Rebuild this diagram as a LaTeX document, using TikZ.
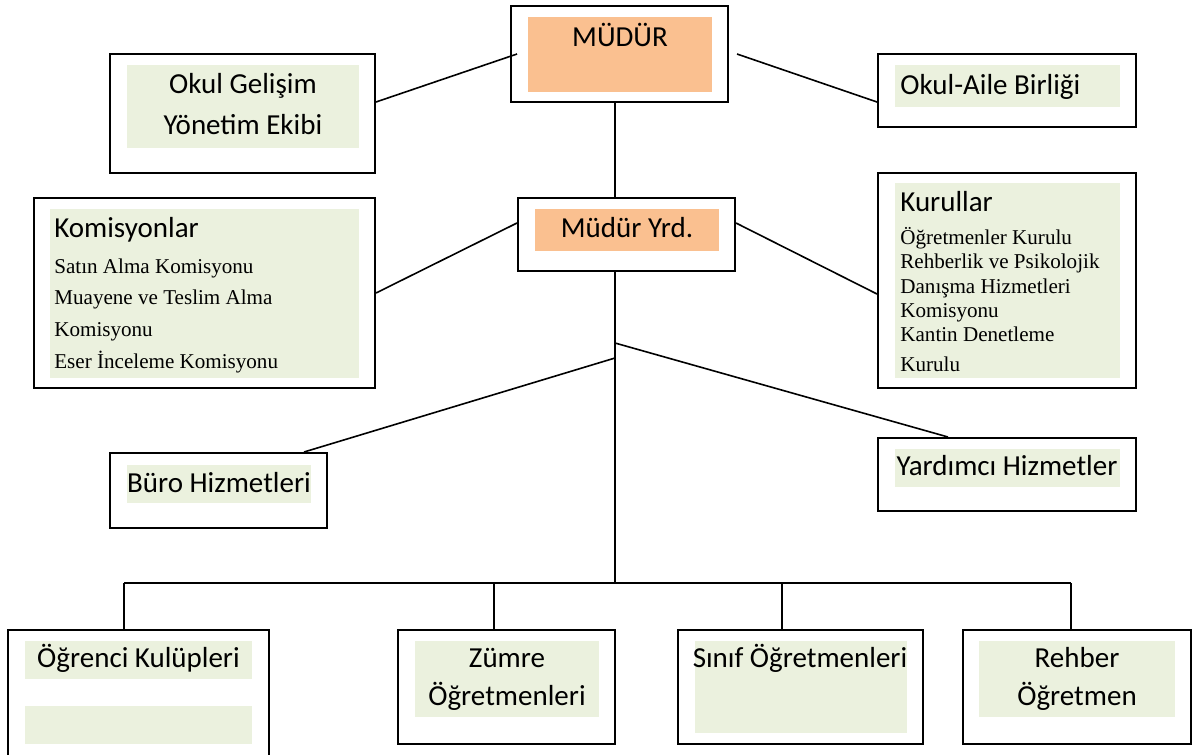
\documentclass[tikz,border=0pt]{standalone}
\usepackage{fontspec}
\usepackage{xcolor}
\usepackage{tikz}
\newfontfamily\calibri{Carlito}
\newfontfamily\tnr{Liberation Serif}
\definecolor{peach}{RGB}{250,192,144}
\definecolor{palegreen}{RGB}{235,241,222}

\begin{document}
\begin{tikzpicture}[x=0.2mm, y=-0.2mm,
    outerbox/.style={draw, line width=0.4mm, fill=white, inner sep=0pt},
    greenfill/.style={fill=palegreen, inner sep=0pt},
    orangefill/.style={fill=peach, inner sep=0pt},
    sanstxt/.style={font=\calibri\fontsize{16.5}{22.5}\selectfont, inner sep=0pt, anchor=base},
    seriftxt/.style={font=\tnr\fontsize{12}{18}\selectfont, inner sep=0pt, anchor=base west, align=left},
    link/.style={line width=0.32mm}]
    \useasboundingbox[fill=white] (0,0) rectangle (1200,754);

    % Mudur
    \node[outerbox, minimum width=43.4mm, minimum height=19.2mm] (mudur) at (619.5,54) {};
    \node[orangefill, minimum width=36.8mm, minimum height=15mm] (mudurfill) at (620,54.5) {};
    \node[sanstxt] (mudurtxt) at (620,46) {MÜDÜR};

    % Okul Gelisim (multi-line: base = last line)
    \node[outerbox, minimum width=53mm, minimum height=23.8mm] (okul) at (242.5,113.5) {};
    \node[greenfill, minimum width=46.4mm, minimum height=16.6mm] (okulfill) at (243,106.5) {};
    \node[sanstxt, align=center, font=\calibri\fontsize{16.5}{22.8}\selectfont] (okultxt) at (243,134) {Okul Gelişim\\Yönetim Ekibi};

    % Okul-Aile
    \node[outerbox, minimum width=51.6mm, minimum height=14.6mm] (aile) at (1007,90.5) {};
    \node[greenfill, minimum width=45mm, minimum height=8.4mm] (ailefill) at (1007.5,86) {};
    \node[sanstxt, anchor=base west] (ailetxt) at (900,94) {Okul-Aile Birliği};

    % Mudur Yrd.
    \node[outerbox, minimum width=43.4mm, minimum height=14.6mm] (yrd) at (626.5,234.5) {};
    \node[orangefill, minimum width=36.8mm, minimum height=8.4mm] (yrdfill) at (627,230) {};
    \node[sanstxt] (yrdtxt) at (627,237) {Müdür Yrd.};

    % Komisyonlar
    \node[outerbox, minimum width=68.2mm, minimum height=38mm] (komisyon) at (204.5,293) {};
    \node[greenfill, minimum width=61.8mm, minimum height=33.8mm] (komisyonfill) at (204.5,293.5) {};
    \node[sanstxt, anchor=base west] (komtitle) at (54,237) {Komisyonlar};
    \node[seriftxt] (komlist) at (54,368) {Satın Alma Komisyonu\\Muayene ve Teslim Alma\\Komisyonu\\Eser İnceleme Komisyonu};

    % Kurullar
    \node[outerbox, minimum width=51.6mm, minimum height=43mm] (kurul) at (1007,280.5) {};
    \node[greenfill, minimum width=45mm, minimum height=39mm] (kurulfill) at (1007.5,280.5) {};
    \node[sanstxt, anchor=base west] (kurtitle) at (900,211) {Kurullar};
    \node[seriftxt, font=\tnr\fontsize{12}{13.9}\selectfont] (kurlist) at (900,371) {Öğretmenler Kurulu\\Rehberlik ve Psikolojik\\Danışma Hizmetleri\\Komisyonu\\Kantin Denetleme\\[0.92mm]Kurulu};

    % Buro / Yardimci
    \node[outerbox, minimum width=43.4mm, minimum height=15mm] (buro) at (218.5,490.5) {};
    \node[greenfill, minimum width=36.8mm, minimum height=7.6mm] (burofill) at (219,484) {};
    \node[sanstxt] (burotxt) at (219,492) {Büro Hizmetleri};
    \node[outerbox, minimum width=51.6mm, minimum height=14.6mm] (yardimci) at (1007,474.5) {};
    \node[greenfill, minimum width=45mm, minimum height=7.6mm] (yardimcifill) at (1007.5,468) {};
    \node[sanstxt] (yardtxt) at (1007,475) {Yardımcı Hizmetler};

    % bottom row
    \node[outerbox, minimum width=52.2mm, minimum height=30mm] (kulup) at (138.5,705) {};
    \node[greenfill, minimum width=45.4mm, minimum height=7.6mm] (kulupfill) at (138.5,660) {};
    \node[greenfill, minimum width=45.4mm, minimum height=7.6mm] (kulupfillb) at (138.5,725) {};
    \node[sanstxt] (kuluptxt) at (138.5,667) {Öğrenci Kulüpleri};

    \node[outerbox, minimum width=43.4mm, minimum height=22.8mm] (zumre) at (506.5,687) {};
    \node[greenfill, minimum width=36.8mm, minimum height=15.2mm] (zumrefill) at (507,679) {};
    \node[sanstxt, align=center, font=\calibri\fontsize{16.5}{21.6}\selectfont] (zumretxt) at (507,705) {Zümre\\Öğretmenleri};

    \node[outerbox, minimum width=49mm, minimum height=22.8mm] (sinif) at (800.5,687) {};
    \node[greenfill, minimum width=42.4mm, minimum height=18.4mm] (siniffill) at (801,687) {};
    \node[sanstxt] (siniftxt) at (800,667) {Sınıf Öğretmenleri};

    \node[outerbox, minimum width=45.6mm, minimum height=22.8mm] (rehber) at (1077,687) {};
    \node[greenfill, minimum width=39.2mm, minimum height=15.2mm] (rehberfill) at (1077,679) {};
    \node[sanstxt, align=center, font=\calibri\fontsize{16.5}{21.6}\selectfont] (rehbertxt) at (1077,705) {Rehber\\Öğretmen};

    % connectors
    \coordinate (bus) at (615,583);
    \coordinate (jl) at (615,358);
    \coordinate (jr) at (615,343);
    \coordinate (d1) at (124,583);
    \coordinate (d2) at (494,583);
    \coordinate (d3) at (782,583);
    \coordinate (d4) at (1071,583);
    \draw[link] ([yshift=2.3mm]okul.east) -- ([xshift=1.4mm]mudur.west);
    \draw[link] ([xshift=1.6mm]mudur.east) -- ([yshift=-2.3mm]aile.west);
    \draw[link] (mudur.south -| bus) -- (yrd.north -| bus);
    \draw[link] (komisyon.east) -- ([yshift=2.3mm]yrd.west);
    \draw[link] ([yshift=2.3mm]yrd.east) -- ([yshift=-2.7mm]kurul.west);
    \draw[link] (yrd.south -| bus) -- (bus);
    \draw[link] (jl) -- ([xshift=17.1mm]buro.north);
    \draw[link] (jr) -- ([xshift=-11.8mm]yardimci.north);
    \draw[link] (d1) -- (d4);
    \draw[link] (d1) -- (d1 |- kulup.north);
    \draw[link] (d2) -- (d2 |- zumre.north);
    \draw[link] (d3) -- (d3 |- sinif.north);
    \draw[link] (d4) -- (d4 |- rehber.north);
\end{tikzpicture}
\end{document}
